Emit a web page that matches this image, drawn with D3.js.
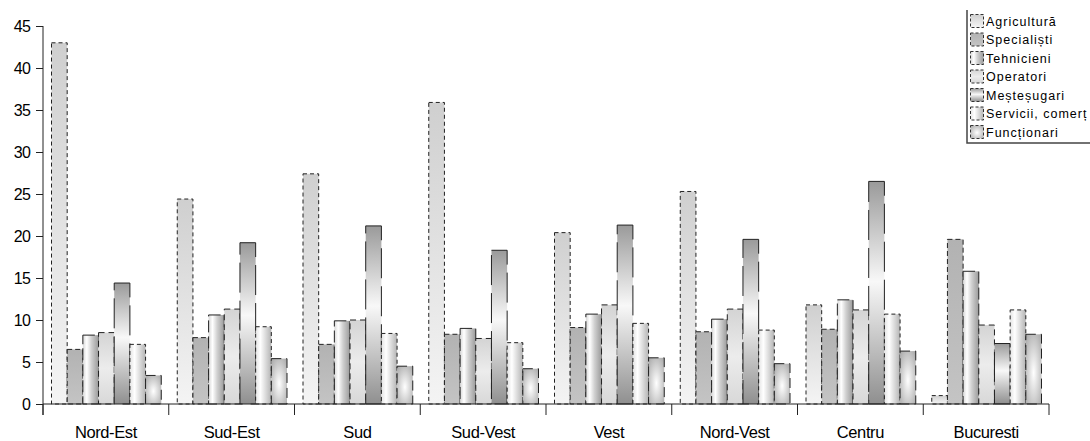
<!DOCTYPE html>
<html>
<head>
<meta charset="utf-8">
<script src="https://cdn.jsdelivr.net/npm/d3@7"></script>
<style>
    body { margin: 0; background: #fff; }
    .chart text { font-family: "Liberation Sans", Arial, sans-serif; fill: #000; }
</style>
</head>
<body>
<svg class="chart"></svg>
<script>
var regions = ['Nord-Est', 'Sud-Est', 'Sud', 'Sud-Vest', 'Vest', 'Nord-Vest', 'Centru', 'Bucuresti'];
var series = ['Agricultură', 'Specialiști', 'Tehnicieni', 'Operatori', 'Meșteșugari', 'Servicii, comerț', 'Funcționari'];

var agricultura = [43.0, 24.4, 27.4, 35.9, 20.4, 25.3, 11.8, 1.0];
var specialisti = [6.5, 7.9, 7.1, 8.3, 9.1, 8.6, 8.9, 19.6];
var tehnicieni = [8.2, 10.6, 9.9, 9.0, 10.7, 10.1, 12.4, 15.8];
var operatori = [8.5, 11.3, 10.0, 7.8, 11.8, 11.3, 11.2, 9.4];
var mestesugari = [14.4, 19.2, 21.2, 18.3, 21.3, 19.6, 26.5, 7.2];
var servicii = [7.1, 9.2, 8.4, 7.3, 9.6, 8.8, 10.7, 11.2];
var functionari = [3.4, 5.4, 4.5, 4.2, 5.5, 4.8, 6.3, 8.3];

var yTicks = [0, 5, 10, 15, 20, 25, 30, 35, 40, 45];

var values = [agricultura, specialisti, tehnicieni, operatori, mestesugari, servicii, functionari];

var config = {
    width: 1090,
    height: 441,
    left: 43,
    right: 1049,
    top: 26,
    bottom: 404
};

// one look per series: gradient id + border dash
var looks = [
    { fill: 'gAgri', dash: '4,3' },
    { fill: 'gSpec', dash: '5,3' },
    { fill: 'gTeh', dash: '12,4' },
    { fill: 'gOper', dash: '6,4' },
    { fill: 'gMest', dash: '30,8' },
    { fill: 'gServ', dash: '4,3' },
    { fill: 'gFunc', dash: '10,5' }
];

var chart = d3.select('.chart')
    .attr('width', config.width)
    .attr('height', config.height);

var defs = chart.append('defs');

function linear(id, vertical, stops) {
    var g = defs.append('linearGradient').attr('id', id)
        .attr('x1', 0).attr('y1', 0)
        .attr('x2', vertical ? 0 : 1).attr('y2', vertical ? 1 : 0);
    stops.forEach(function(s) {
        g.append('stop').attr('offset', s[0]).attr('stop-color', s[1]);
    });
}

linear('gAgri', true, [[0, '#cfcfcf'], [0.6, '#e6e6e6'], [1, '#f4f4f4']]);
linear('gSpec', true, [[0, '#b2b2b2'], [1, '#c4c4c4']]);
linear('gTeh', false, [[0, '#d8d8d8'], [0.25, '#ffffff'], [0.55, '#d0d0d0'], [1, '#9a9a9a']]);
linear('gOper', true, [[0, '#d4d4d4'], [0.5, '#ececec'], [1, '#d8d8d8']]);
linear('gMest', true, [[0, '#9a9a9a'], [0.45, '#f8f8f8'], [1, '#8f8f8f']]);
linear('gServ', false, [[0, '#e4e4e4'], [0.3, '#ffffff'], [1, '#b4b4b4']]);

var rg = defs.append('radialGradient').attr('id', 'gFunc')
    .attr('cx', 0.5).attr('cy', 0.55).attr('r', 0.7);
rg.append('stop').attr('offset', 0).attr('stop-color', '#ffffff');
rg.append('stop').attr('offset', 1).attr('stop-color', '#aaaaaa');

var x0 = d3.scaleBand()
    .domain(regions)
    .range([config.left, config.right]);

var x1 = d3.scaleBand()
    .domain(series)
    .range([8.5, x0.bandwidth() - 7.5]);

var y = d3.scaleLinear()
    .domain([0, 45])
    .range([config.bottom, config.top]);

// bars
var groups = chart.append('g').selectAll('g')
    .data(regions)
    .enter().append('g')
    .attr('transform', function(d) { return 'translate(' + x0(d) + ',0)'; });

groups.selectAll('rect')
    .data(function(r, ri) {
        return series.map(function(s, si) {
            return { key: s, index: si, value: values[si][ri] };
        });
    })
    .enter().append('rect')
    .attr('x', function(d) { return x1(d.key); })
    .attr('y', function(d) { return y(d.value); })
    .attr('width', x1.bandwidth())
    .attr('height', function(d) { return y(0) - y(d.value); })
    .attr('fill', function(d) { return 'url(#' + looks[d.index].fill + ')'; })
    .attr('stroke', '#222')
    .attr('stroke-width', 1)
    .attr('stroke-dasharray', function(d) { return looks[d.index].dash; });

// y axis
var yAxis = chart.append('g')
    .attr('transform', 'translate(' + config.left + ',0)')
    .call(d3.axisLeft(y).tickValues(yTicks).tickSize(7).tickPadding(6));

// x axis, ticks at the group borders
var xAxis = chart.append('g')
    .attr('transform', 'translate(0,' + config.bottom + ')')
    .call(d3.axisBottom(x0).tickSize(0).tickPadding(22));

xAxis.selectAll('.sep')
    .data(regions.concat(['end']))
    .enter().append('line')
    .attr('x1', function(d, i) { return config.left + i * x0.bandwidth(); })
    .attr('x2', function(d, i) { return config.left + i * x0.bandwidth(); })
    .attr('y1', 0)
    .attr('y2', 11)
    .attr('stroke', '#222');

[yAxis, xAxis].forEach(function(a) {
    a.select('.domain').attr('stroke', '#222');
    a.selectAll('.tick line').attr('stroke', '#222');
    a.selectAll('text')
        .style('font-family', '"Liberation Sans", Arial, sans-serif')
        .style('font-size', '16px')
        .style('letter-spacing', '-0.8px')
        .attr('fill', '#000');
});
xAxis.selectAll('text').style('font-size', '16.5px').style('letter-spacing', '-0.4px');
xAxis.select('.domain').attr('d', 'M' + config.left + ',0H' + config.right);
yAxis.select('.domain').attr('d', 'M0,' + config.top + 'V' + (config.bottom + 11));

// legend
var legend = chart.append('g').attr('transform', 'translate(967,0)');

legend.append('path')
    .attr('d', 'M0,10V143H130')
    .attr('fill', 'none')
    .attr('stroke', '#444')
    .attr('stroke-width', 1.5);

var items = legend.selectAll('.item')
    .data(series)
    .enter().append('g')
    .attr('transform', function(d, i) { return 'translate(0,' + (21 + i * 18.5) + ')'; });

items.append('rect')
    .attr('x', 3.5)
    .attr('y', -6.5)
    .attr('width', 13)
    .attr('height', 13)
    .attr('fill', function(d, i) { return 'url(#' + looks[i].fill + ')'; })
    .attr('stroke', '#333')
    .attr('stroke-dasharray', '3,2');

items.append('text')
    .attr('x', 19)
    .attr('dy', '0.36em')
    .style('font-size', '12.5px')
    .style('letter-spacing', '1px')
    .text(function(d) { return d; });
</script>
</body>
</html>
